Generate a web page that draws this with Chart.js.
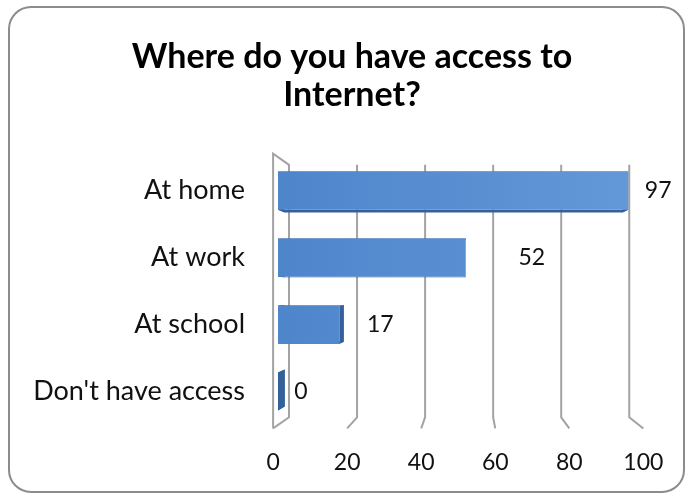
<!DOCTYPE html>
<html>
<head>
<meta charset="utf-8">
<script src="https://cdn.jsdelivr.net/npm/chart.js@4.4.1/dist/chart.umd.min.js"></script>
<style>
  html, body { margin: 0; padding: 0; background: #fff; }
  #wrap { position: relative; width: 688px; height: 495px; }
</style>
</head>
<body>
<div id="wrap"><canvas id="chart" width="688" height="495"></canvas></div>
<script>
const chartTitle = ['Where do you have access to', 'Internet?'];
const categories = ['At home', 'At work', 'At school', "Don't have access"];
const respondents = [97, 52, 17, 0];
const tickValues = [0, 20, 40, 60, 80, 100];

// horizontal gap (px) from each bar's end to the centre of its value label
const valueLabelGap = [30, 66, 41, 23];

// 3-D look: the bar faces sit a little behind the front plane,
// the back wall further still; everything shrinks toward one vanishing point
const VANISH_VALUE = 53;
const BAR_DEPTH = 0.025;
const WALL_DEPTH = 0.081;
const SIDE_DEPTH = 0.035;

const FONT = 'Lato, "Noto Sans", sans-serif';

const perspective = {
  id: 'perspective',
  beforeDraw(chart) {
    const ctx = chart.ctx;
    ctx.save();
    ctx.strokeStyle = '#8c8c8c';
    ctx.lineWidth = 2;
    ctx.beginPath();
    ctx.roundRect(9, 7, 675, 485, 22);
    ctx.stroke();
    ctx.restore();
  },
  beforeDatasetsDraw(chart) {
    const { ctx, chartArea: a, scales: { x } } = chart;
    const vx = x.getPixelForValue(VANISH_VALUE);
    const vy = (a.top + a.bottom) / 2;
    const toFront = (p, v) => (p - BAR_DEPTH * v) / (1 - BAR_DEPTH);
    const toWall = (p, v) => p + WALL_DEPTH * (v - p);

    const fTop = toFront(a.top, vy);
    const fBot = toFront(a.bottom, vy);
    const wTop = toWall(fTop, vy);
    const wBot = toWall(fBot, vy);

    // gridlines on the back wall, folding forward along the floor
    ctx.save();
    ctx.strokeStyle = '#a3a3a3';
    ctx.lineWidth = 2;
    tickValues.forEach((v, i) => {
      const fx = toFront(x.getPixelForValue(v), vx);
      const wx = toWall(fx, vx);
      ctx.beginPath();
      if (i === 0) {
        ctx.moveTo(fx, fBot);
        ctx.lineTo(fx, fTop);
        ctx.lineTo(wx, wTop);
      } else {
        ctx.moveTo(wx, wTop);
      }
      ctx.lineTo(wx, wBot);
      ctx.lineTo(fx, fBot);
      ctx.stroke();
    });

    // dark side faces behind each bar
    ctx.fillStyle = '#35619b';
    chart.getDatasetMeta(0).data.forEach((bar) => {
      const { x: bx, y, base, height } = bar.getProps(['x', 'y', 'base', 'height'], true);
      const l = Math.min(base, bx), r = Math.max(base, bx);
      const t = y - height / 2, b = y + height / 2;
      const corners = [[l, t], [r, t], [r, b], [l, b]];
      const rear = corners.map(([px, py]) => [px + SIDE_DEPTH * (vx - px), py + SIDE_DEPTH * (vy - py)]);
      for (let i = 0; i < 4; i++) {
        const j = (i + 1) % 4;
        ctx.beginPath();
        ctx.moveTo(...corners[i]);
        ctx.lineTo(...corners[j]);
        ctx.lineTo(...rear[j]);
        ctx.lineTo(...rear[i]);
        ctx.closePath();
        ctx.fill();
      }
    });
    ctx.restore();
  },
  afterDatasetsDraw(chart) {
    const ctx = chart.ctx;
    ctx.save();
    ctx.font = '23px ' + FONT;
    ctx.fillStyle = '#111';
    ctx.textAlign = 'center';
    ctx.textBaseline = 'middle';
    chart.getDatasetMeta(0).data.forEach((bar, i) => {
      ctx.fillText(String(respondents[i]), bar.x + valueLabelGap[i], bar.y);
    });
    ctx.restore();
  },
};

function faceColor(context) {
  const area = context.chart.chartArea;
  if (!area) return '#5a8fd2';
  const g = context.chart.ctx.createLinearGradient(area.left, 0, area.right, 0);
  g.addColorStop(0, '#4f85cb');
  g.addColorStop(1, '#6399d8');
  return g;
}

new Chart(document.getElementById('chart'), {
  type: 'bar',
  data: {
    labels: categories,
    datasets: [{
      data: respondents,
      backgroundColor: faceColor,
      borderWidth: 0,
      barPercentage: 0.57,
      categoryPercentage: 1,
    }],
  },
  plugins: [perspective],
  options: {
    indexAxis: 'y',
    responsive: false,
    animation: false,
    devicePixelRatio: 1,
    layout: { padding: { left: 16, right: 0, top: 0, bottom: 0 } },
    plugins: {
      legend: { display: false },
      tooltip: { enabled: false },
      title: {
        display: true,
        text: chartTitle,
        color: '#000',
        font: { family: FONT, size: 34, weight: 'bold', lineHeight: 1.12 },
        padding: { top: 38, bottom: 43 },
      },
    },
    scales: {
      x: {
        display: false,
        min: 0,
        max: 100,
      },
      // tick labels sit on the front edge of the floor
      x2: {
        type: 'linear',
        position: 'bottom',
        axis: 'x',
        min: BAR_DEPTH * VANISH_VALUE,
        max: 100 * (1 - BAR_DEPTH) + BAR_DEPTH * VANISH_VALUE,
        afterBuildTicks: (s) => { s.ticks = tickValues.map((v) => ({ value: v })); },
        afterFit: (s) => { s.height = 70; },
        grid: { display: false, drawTicks: false },
        border: { display: false },
        ticks: {
          autoSkip: false,
          maxRotation: 0,
          padding: 24,
          color: '#111',
          font: { family: FONT, size: 23 },
        },
      },
      y: {
        afterFit: (s) => { s.width = 262; },
        grid: { display: false, drawTicks: false },
        border: { display: false },
        ticks: {
          padding: 33,
          color: '#111',
          font: { family: FONT, size: 27 },
        },
      },
      // empty strip on the right that holds the outer value label
      yEdge: {
        type: 'linear',
        position: 'right',
        afterFit: (s) => { s.width = 49; },
        grid: { display: false, drawTicks: false },
        border: { display: false },
        ticks: { display: false },
      },
    },
  },
});
</script>
</body>
</html>
